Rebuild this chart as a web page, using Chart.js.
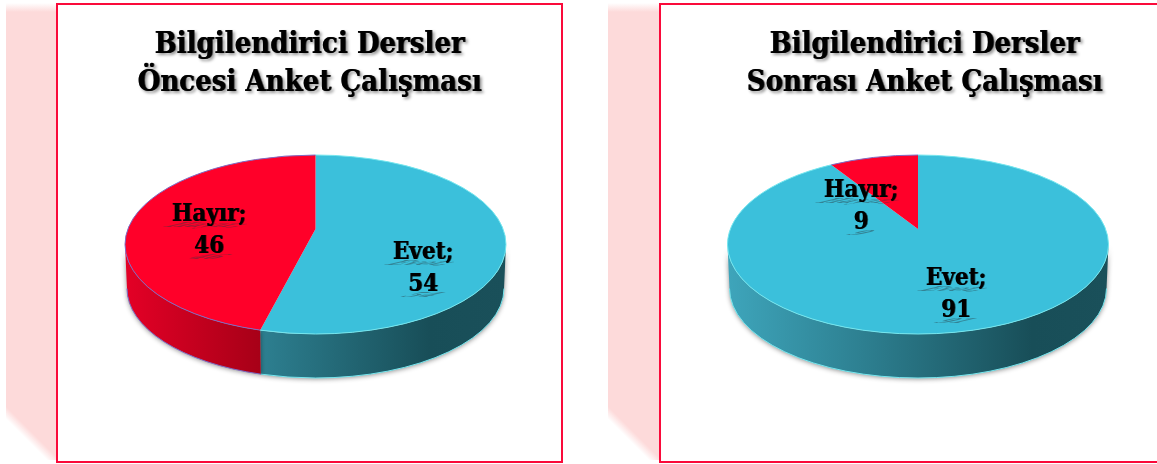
<!DOCTYPE html>
<html><head><meta charset="utf-8">
<style>
html,body{margin:0;padding:0;background:#fff;width:1157px;height:464px;overflow:hidden}
.pink{position:absolute;top:3px;width:52px;height:457px;background:linear-gradient(45deg,#fff 29px,rgba(255,255,255,0) 38px),linear-gradient(#fff 0,#fddada 9px)}
.frame{position:absolute;top:3px;height:456px;border:2px solid #fa0a3a;box-sizing:content-box;background:#fff}
canvas{position:absolute;top:0;left:0}
</style></head><body>
<div class="pink" style="left:6px"></div>
<div class="pink" style="left:608px"></div>
<div class="frame" style="left:56px;width:503px"><canvas id="c1" width="503" height="456"></canvas></div>
<div class="frame" style="left:659px;width:500px"><canvas id="c2" width="500" height="456"></canvas></div>
<script src="https://cdn.jsdelivr.net/npm/chart.js@4"></script>
<script>
const categories = ['Evet', 'Hayır'];
const beforeValues = [54, 46];
const afterValues = [91, 9];
const beforeTitle = ['Bilgilendirici Dersler', 'Öncesi Anket Çalışması'];
const afterTitle = ['Bilgilendirici Dersler', 'Sonrası Anket Çalışması'];
const faceColors = ['#3bc0db', '#ff0029'];
const rimColors = ['#74e6ee', '#7d6cc4'];

const RX = 190.5, RY = 89.5, DEPTH = 44, APEX_UP = 15.5, PIE_R = 250;
const FONT = '"DejaVu Serif Condensed", "DejaVu Serif", serif';

function wallGradient(ctx, cx, idx) {
  const g = ctx.createLinearGradient(cx - RX, 0, cx + RX, 0);
  if (idx === 0) {
    g.addColorStop(0, '#3ea5bb'); g.addColorStop(0.36, '#2d7f90');
    g.addColorStop(0.8, '#184e58'); g.addColorStop(1, '#1a505a');
  } else {
    g.addColorStop(0, '#e40026'); g.addColorStop(0.36, '#a60017'); g.addColorStop(1, '#a60017');
  }
  return g;
}
// perspective view: the slice apex sits above the ellipse centre, so a slice
// boundary meets the rim at a different ellipse parameter than its own angle
function rimAngle(a) {
  const o = APEX_UP / RY, dx = Math.cos(a), dy = Math.sin(a);
  const od = -o * dy, t = -od + Math.sqrt(od * od + 1 - o * o);
  return Math.atan2(-o + t * dy, t * dx);
}
function rimSpan(arc) {
  const s = rimAngle(arc.startAngle);
  let e = rimAngle(arc.endAngle);
  while (e <= s) e += Math.PI * 2;
  return [s, e];
}

const pie3d = {
  id: 'pie3d',
  beforeDraw(chart) {
    const c = chart.ctx;
    c.save();
    c.filter = 'drop-shadow(0.6px 0 0 #000) drop-shadow(2px 2px 1.5px rgba(0,0,0,.4))';
  },
  beforeDatasetsDraw(chart, args, o) {
    const ctx = chart.ctx, arcs = chart.getDatasetMeta(0).data;
    ctx.restore();
    const TAU = Math.PI * 2;
    arcs.forEach((a, i) => {
      const [s1, e1] = rimSpan(a);
      [0, TAU, -TAU].forEach(sh => {
        const s = Math.max(s1 + sh, 0), e = Math.min(e1 + sh, Math.PI);
        if (e <= s) return;
        ctx.save();
        ctx.shadowColor = 'rgba(0,0,0,.45)'; ctx.shadowBlur = 5; ctx.shadowOffsetY = 1;
        ctx.beginPath();
        ctx.ellipse(o.cx, o.cy, RX, RY, 0, s, e);
        ctx.ellipse(o.cx, o.cy + DEPTH, RX - 2, RY, 0, e, s, true);
        ctx.closePath();
        ctx.fillStyle = wallGradient(ctx, o.cx, i);
        ctx.fill();
        ctx.restore();
        ctx.beginPath();
        ctx.ellipse(o.cx, o.cy + DEPTH, RX - 2, RY, 0, s, e);
        ctx.strokeStyle = rimColors[i]; ctx.lineWidth = 1; ctx.stroke();
      });
    });
    const a = arcs[0];
    ctx.save();
    ctx.beginPath();
    ctx.ellipse(o.cx, o.cy, RX, RY, 0, 0, TAU);
    ctx.clip();
    ctx.translate(o.cx, o.cy - APEX_UP);
    ctx.scale(1, RY / RX);
    ctx.translate(-a.x, -a.y);
  },
  afterDatasetsDraw(chart, args, o) {
    const ctx = chart.ctx, arcs = chart.getDatasetMeta(0).data, values = chart.data.datasets[0].data;
    ctx.restore();
    arcs.forEach((a, i) => {
      const [s, e] = rimSpan(a);
      ctx.beginPath();
      ctx.ellipse(o.cx, o.cy, RX, RY, 0, s, e);
      ctx.strokeStyle = rimColors[i]; ctx.lineWidth = 1; ctx.stroke();
    });
    ctx.textAlign = 'center'; ctx.textBaseline = 'alphabetic';
    ctx.font = 'bold 24px ' + FONT;
    chart.data.labels.forEach((lab, i) => {
      const [lx, ly] = o.labels[i];
      [[lab + ';', ly], [String(values[i]), ly + 31.5]].forEach(([t, y]) => {
        ctx.save();
        ctx.filter = 'blur(0.7px)';
        ctx.globalAlpha = .45;
        ctx.fillStyle = '#2a3a40';
        ctx.setTransform(1, 0, -1.2, .28, lx - 10, y + 6);
        ctx.fillText(t, 0, 0);
        ctx.restore();
        ctx.save();
        ctx.filter = 'drop-shadow(0.6px 0 0 #000)';
        ctx.fillStyle = '#000';
        ctx.fillText(t, lx, y);
        ctx.restore();
      });
    });
  }
};

function makeChart(id, values, titleLines, cfg) {
  return new Chart(document.getElementById(id), {
    type: 'pie',
    data: { labels: categories, datasets: [{ data: values, backgroundColor: faceColors, borderWidth: 0, clip: false, radius: PIE_R }] },
    options: {
      responsive: false, animation: false, events: [],
      layout: { padding: { left: cfg.padLeft, bottom: 70 } },
      plugins: {
        legend: { display: false }, tooltip: { enabled: false },
        title: { display: true, text: titleLines, color: '#000', font: { family: FONT, size: 29, weight: 'bold', lineHeight: 1.3 }, padding: { top: 22, bottom: 10 } },
        pie3d: { cx: cfg.cx, cy: cfg.cy, labels: cfg.labels }
      }
    },
    plugins: [pie3d]
  });
}
makeChart('c1', beforeValues, beforeTitle, { padLeft: 0, cx: 257.5, cy: 239.5, labels: [[365, 254], [151, 216]] });
makeChart('c2', afterValues, afterTitle, { padLeft: 27, cx: 257, cy: 239.5, labels: [[295, 280], [200, 192]] });
</script>
</body></html>
